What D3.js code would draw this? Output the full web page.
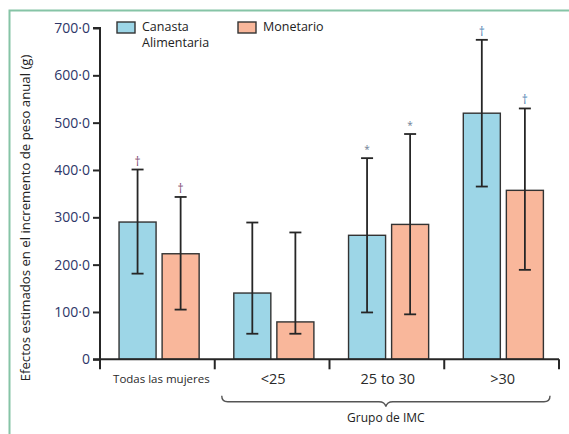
<!DOCTYPE html>
<html>
<head>
<meta charset="utf-8">
<script src="https://cdn.jsdelivr.net/npm/d3@7"></script>
<style>
  body { margin: 0; background: #fff; }
  svg { display: block; font-family: "Open Sans", "Noto Sans", sans-serif; }
</style>
</head>
<body>
<div id="chart"></div>
<script>
// Categories and series
const groups = ["Todas las mujeres", "<25", "25 to 30", ">30"];
const series = ["Canasta Alimentaria", "Monetario"];

// Estimated effects (g) with 95% CI
const canasta = [290, 140, 262, 520];
const canastaLow = [181, 54, 99, 365];
const canastaHigh = [401, 289, 425, 675];
const monetario = [223, 79, 285, 357];
const monetarioLow = [105, 54, 95, 189];
const monetarioHigh = [343, 268, 476, 530];

// Significance markers above the bars
const canastaMarks = ["†", "", "*", "†"];
const monetarioMarks = ["†", "", "*", "†"];

const yTicks = [0, 100, 200, 300, 400, 500, 600, 700];

const W = 569, H = 434;
const X0 = 100, X1 = 559;
const Y0 = 359.3, Y1 = 28;

const BLUE = "#9dd6e7";
const ORANGE = "#f9b79b";
const INK = "#262626";

const svg = d3.select("#chart").append("svg")
    .attr("width", W)
    .attr("height", H);

// Green frame (only top and left edges show)
svg.append("path")
    .attr("d", `M9.5,${H} V10.5 H${W}`)
    .attr("fill", "none")
    .attr("stroke", "#86c4a6")
    .attr("stroke-width", 2);

const y = d3.scaleLinear().domain([0, 700]).range([Y0, Y1]);
const x = d3.scaleBand().domain(groups).range([X0, X1]).padding(0);
const xs = d3.scaleBand().domain(series)
    .range([x.bandwidth() * 0.166, x.bandwidth() * 0.864])
    .paddingInner(0.14);

// Build rows from the arrays
const rows = [];
groups.forEach((g, i) => {
    rows.push({ g, s: series[0], v: canasta[i], lo: canastaLow[i], hi: canastaHigh[i], m: canastaMarks[i], gi: i });
    rows.push({ g, s: series[1], v: monetario[i], lo: monetarioLow[i], hi: monetarioHigh[i], m: monetarioMarks[i], gi: i });
});
const fill = d => d.s === series[0] ? BLUE : ORANGE;
const cx = d => x(d.g) + xs(d.s) + xs.bandwidth() / 2;

// Bars
svg.append("g")
    .selectAll("rect")
    .data(rows)
    .enter()
    .append("rect")
    .attr("x", d => x(d.g) + xs(d.s))
    .attr("y", d => y(d.v))
    .attr("width", xs.bandwidth())
    .attr("height", d => y(0) - y(d.v))
    .attr("fill", fill)
    .attr("stroke", "#333")
    .attr("stroke-width", 1.4);

// Error bars
const err = svg.append("g").attr("stroke", INK).attr("stroke-width", 1.8);
rows.forEach(d => {
    const c = cx(d);
    err.append("line").attr("x1", c).attr("x2", c).attr("y1", y(d.lo)).attr("y2", y(d.hi));
    err.append("line").attr("x1", c - 6).attr("x2", c + 6).attr("y1", y(d.lo)).attr("y2", y(d.lo));
    err.append("line").attr("x1", c - 6).attr("x2", c + 6).attr("y1", y(d.hi)).attr("y2", y(d.hi));
});

// Significance markers
const markColor = d => d.m === "*" ? "#6f7d96" : (d.gi === 0 ? "#7e4a70" : "#4f82b4");
svg.append("g")
    .selectAll("text")
    .data(rows.filter(d => d.m))
    .enter()
    .append("text")
    .attr("x", cx)
    .attr("y", d => y(d.hi) - (d.m === "*" ? 5 : 4))
    .attr("text-anchor", "middle")
    .attr("font-size", d => d.m === "*" ? 10 : 12)
    .attr("fill", markColor)
    .text(d => d.m);

// Y axis
const yAxis = d3.axisLeft(y)
    .tickValues(yTicks)
    .tickSize(7)
    .tickPadding(3)
    .tickFormat(d => d === 0 ? "0" : d3.format(".1f")(d).replace(".", "·"));
const gy = svg.append("g")
    .attr("transform", `translate(${X0},0)`)
    .call(yAxis);
gy.select(".domain").attr("stroke", INK).attr("stroke-width", 2)
    .attr("d", `M-7,${Y1}H0V${Y0}`);
gy.selectAll(".tick line").attr("stroke", INK).attr("stroke-width", 2);
gy.selectAll(".tick text")
    .attr("font-size", 14)
    .attr("fill", "#2e3668")
    .attr("font-family", "'Open Sans', sans-serif");

// X axis: line and ticks at band boundaries
const bounds = groups.map(g => x(g)).concat([X1]);
const gx = svg.append("g").attr("stroke", INK).attr("stroke-width", 2);
gx.append("line").attr("x1", X0 - 7).attr("x2", X1).attr("y1", Y0).attr("y2", Y0);
gx.selectAll("line.t")
    .data(bounds)
    .enter()
    .append("line")
    .attr("class", "t")
    .attr("x1", d => d).attr("x2", d => d)
    .attr("y1", Y0).attr("y2", Y0 + 10);

// X labels
svg.append("g")
    .selectAll("text")
    .data(groups)
    .enter()
    .append("text")
    .attr("x", d => x(d) + x.bandwidth() / 2 + (d === groups[0] ? 4 : 1))
    .attr("y", d => d === groups[0] ? 383 : 384)
    .attr("text-anchor", "middle")
    .attr("font-size", d => d === groups[0] ? 11.5 : 14.5)
    .attr("fill", "#2a2a2a")
    .text(d => d);

// Brace under BMI groups
const bx0 = x(groups[1]) + 7;
const bx1 = X1 - 9;
const bm = (bx0 + bx1) / 2;
const by = 401.7;
svg.append("path")
    .attr("d", `M${bx0},${by - 6} Q${bx0},${by} ${bx0 + 6},${by} H${bm - 7} Q${bm - 1},${by} ${bm},${by + 5}` +
        ` Q${bm + 1},${by} ${bm + 7},${by} H${bx1 - 6} Q${bx1},${by} ${bx1},${by - 6}`)
    .attr("fill", "none")
    .attr("stroke", "#555")
    .attr("stroke-width", 1.4);

svg.append("text")
    .attr("x", bm)
    .attr("y", 422)
    .attr("text-anchor", "middle")
    .attr("font-size", 12)
    .attr("fill", "#222")
    .text("Grupo de IMC");

// Y title
svg.append("text")
    .attr("transform", `translate(30,${(45 + 391) / 2}) rotate(-90)`)
    .attr("text-anchor", "middle")
    .attr("font-size", 13.2)
    .attr("fill", "#222")
    .text("Efectos estimados en el incremento de peso anual (g)");

// Legend
const legend = svg.append("g");
const legendX = [117, 238];
series.forEach((s, i) => {
    legend.append("rect")
        .attr("x", legendX[i]).attr("y", 22)
        .attr("width", 18).attr("height", 11)
        .attr("fill", i === 0 ? BLUE : ORANGE)
        .attr("stroke", "#333").attr("stroke-width", 1.4);
    const t = legend.append("text")
        .attr("x", legendX[i] + 25).attr("y", 31)
        .attr("font-size", 12.5)
        .attr("fill", "#222");
    const words = i === 0 ? ["Canasta", "Alimentaria"] : [s];
    words.forEach((w, j) => {
        t.append("tspan").attr("x", legendX[i] + 25).attr("dy", j === 0 ? 0 : 16).text(w);
    });
});
</script>
</body>
</html>
